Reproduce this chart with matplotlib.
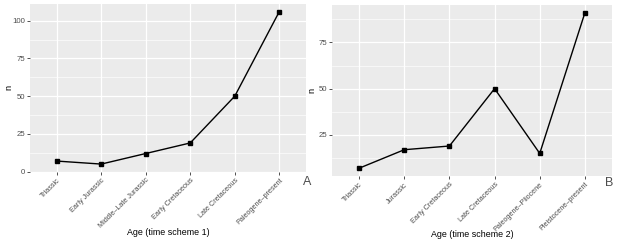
import matplotlib
matplotlib.use("Agg")
import matplotlib.pyplot as plt
import numpy as np
from matplotlib.ticker import MultipleLocator

plt.rcParams["font.family"] = ["Liberation Sans", "DejaVu Sans"]

ages_1 = ["Triassic", "Early Jurassic", "Middle\u2013Late Jurassic",
          "Early Cretaceous", "Late Cretaceous", "Paleogene\u2013present"]
n_1 = [7, 5, 12, 19, 50, 106]

ages_2 = ["Triassic", "Jurassic", "Early Cretaceous", "Late Cretaceous",
          "Paleogene\u2013Pliocene", "Pleistocene\u2013present"]
n_2 = [7, 17, 19, 50, 15, 91]

W, H = 617, 243
fig = plt.figure(figsize=(W / 100, H / 100), dpi=100)


def px_axes(x0, y0, x1, y1):
    return fig.add_axes([x0 / W, 1 - y1 / H, (x1 - x0) / W, (y1 - y0) / H])


def gg_panel(ax, box, labels, values, xlabel, yticks, tag, tag_xy, xlab_y, ylab_x):
    x = np.arange(len(labels))
    ax.set_facecolor("#EBEBEB")
    for side in ax.spines.values():
        side.set_visible(False)
    ax.plot(x, values, color="black", lw=1.0, zorder=3)
    ax.plot(x, values, "s", color="black", ms=2.4, zorder=4)
    ax.set_xlim(-0.6, len(labels) - 1 + 0.6)
    lo, hi = min(values), max(values)
    pad = (hi - lo) * 0.05
    ax.set_ylim(lo - pad, hi + pad)
    ax.set_xticks(x)
    ax.set_xticklabels(labels, rotation=45, ha="right", va="top",
                       rotation_mode="anchor", fontsize=5.2, color="#4D4D4D")
    ax.set_yticks(yticks)
    ax.yaxis.set_minor_locator(MultipleLocator(12.5))
    ax.tick_params(axis="y", which="minor", length=0)
    ax.tick_params(axis="both", which="major", length=2.2, width=0.6,
                   color="#333333", labelcolor="#4D4D4D", pad=1.5)
    ax.tick_params(axis="y", labelsize=5.6)
    ax.grid(True, which="major", color="white", lw=0.9, zorder=0)
    ax.grid(True, which="minor", axis="y", color="white", lw=0.45, zorder=0)
    ax.set_axisbelow(True)
    x0, y0, x1, y1 = box
    ax.set_xlabel(xlabel, fontsize=6.4, va="center")
    ax.xaxis.set_label_coords(0.5, (y1 - xlab_y) / (y1 - y0))
    ax.set_ylabel("n", fontsize=6.6, va="center")
    ax.yaxis.set_label_coords((ylab_x - x0) / (x1 - x0), 0.5)
    fig.text(tag_xy[0] / W, 1 - tag_xy[1] / H, tag, fontsize=9,
             color="#4D4D4D", ha="center", va="center")


box_a = (30, 4, 306, 171.7)
ax_a = px_axes(*box_a)
gg_panel(ax_a, box_a, ages_1, n_1, "Age (time scheme 1)", [0, 25, 50, 75, 100],
         "A", (307, 182), 232, 9)

box_b = (332, 5, 612, 176)
ax_b = px_axes(*box_b)
gg_panel(ax_b, box_b, ages_2, n_2, "Age (time scheme 2)", [25, 50, 75],
         "B", (609, 183), 234, 312)

fig.savefig("out.png", dpi=100, facecolor="white")
